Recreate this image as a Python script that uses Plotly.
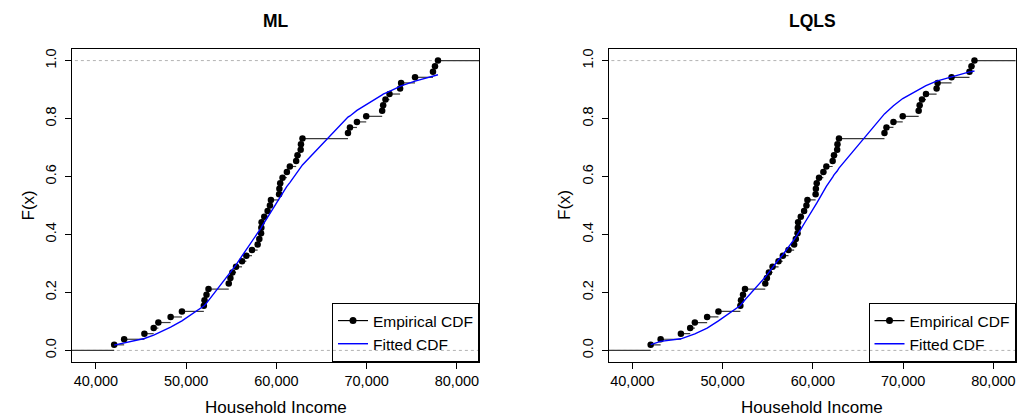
import plotly.graph_objects as go

# ---- data ----
income = [42024, 43128, 45372, 46403, 46918, 48280, 49531, 51960, 52033, 52254,
          52475, 54720, 54904, 55124, 55529, 56192, 56670, 57295, 57921, 58105,
          58300, 58330, 58360, 58657, 59025, 59282, 59393, 60300, 60330, 60423,
          60681, 61159, 61490, 62189, 62337, 62690, 62720, 62889, 67930, 68151,
          68924, 69954, 71720, 71830, 72088, 72530, 73707, 73818, 75364, 77351,
          77571, 77903]

fit_ml = [0.018, 0.025, 0.041, 0.053, 0.060, 0.080, 0.102, 0.152, 0.155, 0.163,
          0.172, 0.261, 0.268, 0.276, 0.295, 0.326, 0.347, 0.376, 0.405, 0.414,
          0.422, 0.424, 0.426, 0.441, 0.460, 0.474, 0.479, 0.523, 0.525, 0.531,
          0.543, 0.566, 0.579, 0.611, 0.617, 0.630, 0.632, 0.640, 0.805, 0.809,
          0.828, 0.849, 0.882, 0.884, 0.887, 0.894, 0.911, 0.913, 0.929, 0.945,
          0.947, 0.951]

fit_lqls = [0.020, 0.031, 0.040, 0.051, 0.057, 0.077, 0.102, 0.155, 0.158, 0.166,
            0.175, 0.253, 0.261, 0.270, 0.286, 0.313, 0.330, 0.355, 0.382, 0.391,
            0.400, 0.402, 0.404, 0.418, 0.437, 0.451, 0.456, 0.502, 0.504, 0.508,
            0.522, 0.548, 0.566, 0.598, 0.606, 0.619, 0.621, 0.629, 0.816, 0.823,
            0.844, 0.869, 0.901, 0.903, 0.907, 0.914, 0.929, 0.930, 0.945, 0.961,
            0.962, 0.964]

panel_titles = ["ML", "LQLS"]
x_ticks = [40000, 50000, 60000, 70000, 80000]
y_ticks = [0.0, 0.2, 0.4, 0.6, 0.8, 1.0]
y_tick_text = ["0.0", "0.2", "0.4", "0.6", "0.8", "1.0"]

# ---- derived ----
n = len(income)
ecdf = [(i + 1) / n for i in range(n)]
x_range = [37350, 82450]
y_range = [-0.04, 1.04]

seg_x, seg_y = [], []
seg_x += [x_range[0] - 5000, income[0], None]
seg_y += [0, 0, None]
for i in range(n):
    right = income[i + 1] if i + 1 < n else x_range[1] + 5000
    seg_x += [income[i], right, None]
    seg_y += [ecdf[i], ecdf[i], None]

fig = go.Figure()
FONT = "Liberation Sans, Arial, Helvetica, sans-serif"

domains = [[72 / 1032, 479 / 1032], [608.5 / 1032, 1015.5 / 1032]]
y_dom = [1 - 362 / 417, 1 - 49 / 417]
fits = [fit_ml, fit_lqls]

for p in range(2):
    xa = "x" if p == 0 else "x2"
    ya = "y" if p == 0 else "y2"
    leg = "legend" if p == 0 else "legend2"
    for h in (0, 1):
        fig.add_trace(go.Scatter(x=[x_range[0] - 5000, x_range[1] + 5000], y=[h, h],
                                 mode="lines", line=dict(color="#b3b3b3", width=1, dash="3px,3px"),
                                 xaxis=xa, yaxis=ya, showlegend=False, hoverinfo="skip"))
    fig.add_trace(go.Scatter(x=seg_x, y=seg_y, mode="lines",
                             line=dict(color="#3a3a3a", width=1.2),
                             xaxis=xa, yaxis=ya, showlegend=False, hoverinfo="skip"))
    fig.add_trace(go.Scatter(x=income, y=ecdf, mode="markers",
                             marker=dict(color="black", size=6.5),
                             xaxis=xa, yaxis=ya, showlegend=False))
    fig.add_trace(go.Scatter(x=income, y=fits[p], mode="lines",
                             line=dict(color="#0000ff", width=1.4),
                             xaxis=xa, yaxis=ya, showlegend=False))
    fig.add_trace(go.Scatter(x=[None], y=[None], mode="lines+markers", name="Empirical CDF",
                             line=dict(color="black", width=1.2), marker=dict(color="black", size=7),
                             xaxis=xa, yaxis=ya, legend=leg))
    fig.add_trace(go.Scatter(x=[None], y=[None], mode="lines", name="Fitted CDF",
                             line=dict(color="#0000ff", width=1.4),
                             xaxis=xa, yaxis=ya, legend=leg))

axis_common = dict(showline=True, linecolor="black", linewidth=1, mirror=True,
                   ticks="outside", ticklen=6, tickcolor="black", showgrid=False,
                   zeroline=False, tickfont=dict(family=FONT, size=14.5, color="black"))

layout = dict(
    width=1032, height=417, margin=dict(l=0, r=0, t=0, b=0),
    plot_bgcolor="white", paper_bgcolor="white",
    font=dict(family=FONT, color="black"),
)
for p in range(2):
    sfx = "" if p == 0 else "2"
    layout["xaxis" + sfx] = dict(domain=domains[p], range=x_range, tickvals=x_ticks,
                                 tickformat=",d", anchor="y" + sfx, **axis_common)
    layout["yaxis" + sfx] = dict(domain=y_dom, range=y_range, tickvals=y_ticks,
                                 ticktext=y_tick_text, tickangle=-90, anchor="x" + sfx,
                                 ticklabelstandoff=3, **axis_common)
    leg = dict(x=domains[p][1], y=y_dom[0], xanchor="right", yanchor="bottom",
               bgcolor="rgba(0,0,0,0)", bordercolor="black", borderwidth=1,
               font=dict(family=FONT, size=15.5, color="black"),
               tracegroupgap=0, itemwidth=30)
    layout["legend" if p == 0 else "legend2"] = leg

fig.update_layout(**layout)

ann = []
for p in range(2):
    cx = (domains[p][0] + domains[p][1]) / 2
    ann.append(dict(text="<b>" + panel_titles[p] + "</b>", x=cx, y=1 - 21 / 417,
                    xref="paper", yref="paper", xanchor="center", yanchor="middle",
                    showarrow=False, font=dict(family=FONT, size=17.5, color="black")))
    ann.append(dict(text="Household Income", x=cx, y=1 - 407 / 417,
                    xref="paper", yref="paper", xanchor="center", yanchor="middle",
                    showarrow=False, font=dict(family=FONT, size=17, color="black")))
    ann.append(dict(text="F(x)", x=domains[p][0] - 44 / 1032, y=(y_dom[0] + y_dom[1]) / 2,
                    xref="paper", yref="paper", textangle=-90, xanchor="center", yanchor="middle",
                    showarrow=False, font=dict(family=FONT, size=17, color="black")))
fig.update_layout(annotations=ann)

fig.write_html("out.html")
